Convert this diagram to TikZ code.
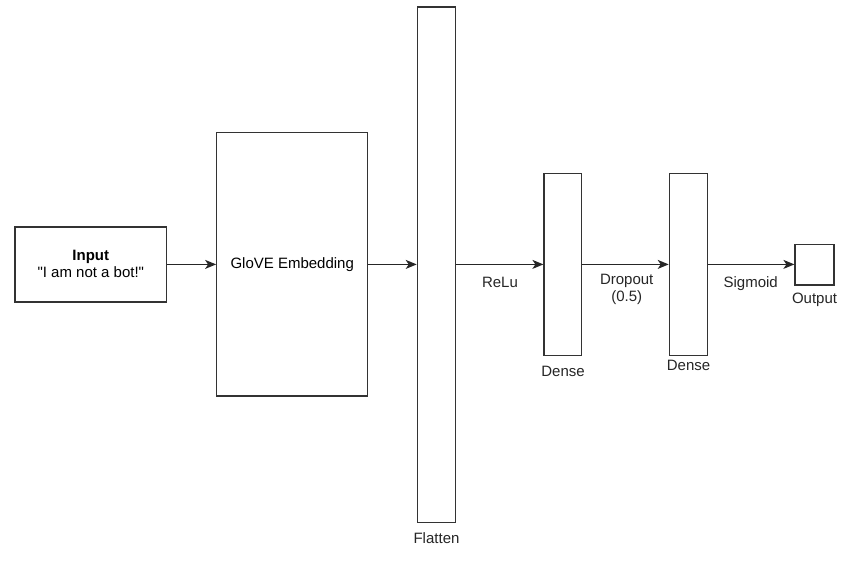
\documentclass[tikz,border=0pt]{standalone}
\usepackage{fontspec}
\setmainfont{Liberation Sans}[Ligatures=TeXOff]
\usetikzlibrary{arrows.meta}
\begin{document}
\begin{tikzpicture}[x=1pt,y=-1pt,
  box/.style={draw=black!80, line width=1.2pt, fill=white, inner sep=0pt, align=center, font=\fontsize{15}{17}\selectfont},
  lbl/.style={inner sep=0pt, align=center, font=\fontsize{15}{17.5}\selectfont, text=black!85},
  conn/.style={draw=black!85, line width=1.2pt, -{Stealth[length=11pt,width=9pt,inset=3pt]}}]
\useasboundingbox[fill=white] (0,0) rectangle (850,570);
\node[box, minimum width=151.7pt, minimum height=75pt] (in) at (90.8,264.4) {\textbf{Input}\\"I am not a bot!"};
\node[box, minimum width=151pt, minimum height=263.3pt] (glove) at (292.2,264.4) {GloVE Embedding};
\node[box, minimum width=38.4pt, minimum height=515.7pt] (flat) at (436.5,264.85) {};
\node[box, minimum width=37.7pt, minimum height=182.4pt] (d1) at (562.85,264.5) {};
\node[box, minimum width=38.4pt, minimum height=182.4pt] (d2) at (688.5,264.5) {};
\node[box, minimum width=39pt, minimum height=40.7pt] (out) at (814.5,264.7) {};
\draw[conn] (in.east) -- (in.east -| glove.west);
\draw[conn] (glove.east) -- (glove.east -| flat.west);
\draw[conn] (flat.east |- glove.east) -- (glove.east -| d1.west);
\draw[conn] (d1.east |- glove.east) -- (glove.east -| d2.west);
\draw[conn] (d2.east |- glove.east) -- (glove.east -| out.west);
\node[lbl] (relu) at (500,282.7) {ReLu};
\node[lbl] (drop) at (626.7,289.3) {Dropout\\(0.5)};
\node[lbl] (sig) at (750.7,283.3) {Sigmoid};
\node[lbl] (flatl) at (436.5,537.7) {Flatten};
\node[lbl] (d1l) at (563,371.7) {Dense};
\node[lbl] (d2l) at (688.5,365.7) {Dense};
\node[lbl] (outl) at (814.5,300) {Output};
\end{tikzpicture}
\end{document}
